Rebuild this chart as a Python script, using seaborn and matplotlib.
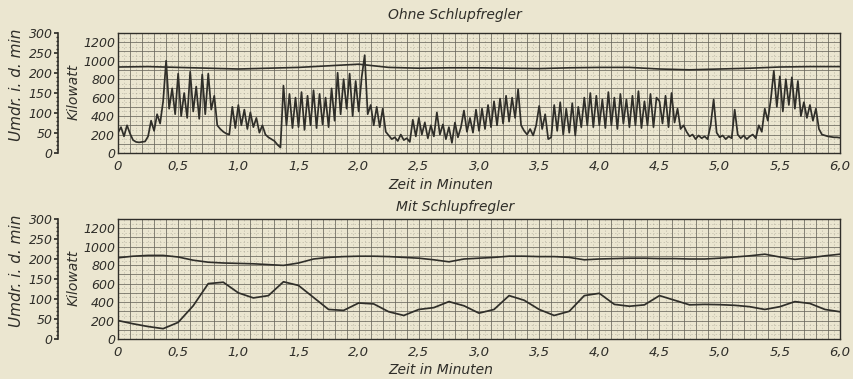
import numpy as np
import pandas as pd
import matplotlib
matplotlib.use("Agg")
import matplotlib.pyplot as plt
import seaborn as sns

# ============================================================
# Data
# ============================================================
# Ohne Schlupfregler: Kilowatt every 0.025 min, Umdrehungen every 0.25 min
kw_ohne = [
    220, 280, 180, 300, 210, 140, 120, 115, 120, 125,
    180, 350, 240, 420, 320, 560, 1000, 480, 700, 420,
    860, 400, 650, 380, 880, 450, 720, 370, 850, 420,
    860, 470, 620, 300, 260, 230, 210, 200, 500, 270,
    520, 300, 470, 260, 440, 280, 380, 220, 300, 200,
    170, 150, 130, 90, 60, 730, 300, 640, 270, 600,
    280, 660, 250, 620, 300, 680, 270, 640, 310, 600,
    280, 700, 350, 870, 420, 800, 480, 860, 400, 780,
    450, 820, 1060, 420, 520, 300, 500, 280, 480, 230,
    190, 150, 170, 130, 200, 140, 160, 120, 360, 180,
    380, 200, 330, 160, 300, 180, 440, 200, 310, 150,
    280, 110, 330, 170, 280, 460, 230, 380, 220, 470,
    240, 480, 260, 520, 280, 560, 300, 590, 320, 620,
    340, 600, 380, 690, 300, 240, 200, 260, 190, 300,
    510, 260, 420, 150, 170, 520, 240, 550, 200, 480,
    220, 540, 190, 500, 280, 600, 300, 650, 280, 620,
    300, 580, 270, 660, 300, 600, 260, 640, 320, 580,
    280, 620, 300, 670, 270, 560, 300, 640, 280, 600,
    560, 320, 620, 280, 650, 330, 480, 260, 300, 230,
    180, 200, 150, 190, 160, 180, 150, 300, 580, 220,
    170, 190, 150, 180, 160, 470, 200, 160, 190, 150,
    180, 200, 160, 300, 230, 480, 350, 580, 890, 500,
    830, 450, 800, 520, 820, 480, 780, 400, 550, 380,
    520, 350, 480, 260, 200, 190, 180, 175, 170, 170,
    165,
]
rpm_ohne = [215, 216, 214, 212, 210, 212, 214, 218, 222, 214, 212, 213, 213,
            212, 211, 213, 214, 214, 210, 208, 210, 212, 215, 216, 216]

# Mit Schlupfregler: both every 0.125 min
kw_mit = [200, 165, 135, 112, 180, 360, 600, 615, 500, 445, 470, 620, 580,
          450, 320, 310, 390, 380, 295, 255, 320, 340, 405, 360, 280, 320,
          470, 420, 320, 255, 300, 470, 495, 375, 355, 370, 470, 420, 370,
          375, 372, 365, 350, 320, 350, 405, 385, 320, 295]
rpm_mit = [203, 207, 209, 209, 205, 197, 192, 190, 189, 188, 186, 184, 190,
           200, 204, 206, 207, 207, 206, 204, 202, 198, 193, 200, 202, 204,
           207, 207, 206, 206, 204, 198, 200, 201, 202, 202, 201, 201, 200,
           200, 202, 205, 208, 212, 205, 199, 203, 208, 212]

x_ticks = [0, 0.5, 1.0, 1.5, 2.0, 2.5, 3.0, 3.5, 4.0, 4.5, 5.0, 5.5, 6.0]
x_labels = ["0", "0,5", "1,0", "1,5", "2,0", "2,5", "3,0", "3,5", "4,0",
            "4,5", "5,0", "5,5", "6,0"]
kw_ticks = [0, 200, 400, 600, 800, 1000, 1200]
rpm_ticks = [0, 50, 100, 150, 200, 250, 300]

panels = [
    ("Ohne Schlupfregler", kw_ohne, rpm_ohne),
    ("Mit Schlupfregler", kw_mit, rpm_mit),
]

# ============================================================
# Style
# ============================================================
sns.set_theme(style="ticks")
plt.rcParams["font.family"] = ["DejaVu Sans"]
PAPER = "#ebe6d0"
INK = "#2f2e29"
GRID = "#6a685d"

W, H = 854, 379
fig = plt.figure(figsize=(W / 100, H / 100), dpi=100, facecolor=PAPER)


def fx(px):
    return px / W


def fy(py):
    return 1 - py / H


# pixel boxes of the two plot areas: (top, bottom)
boxes = [(33, 153), (219, 339)]
title_y = [15, 207]
xlabel_y = [185, 370]

for (title, kw, rpm), (top, bot), ty, xy in zip(panels, boxes, title_y, xlabel_y):
    ax = fig.add_axes([fx(118), fy(bot), (840 - 118) / W, (bot - top) / H])
    ax.set_facecolor(PAPER)

    df_kw = pd.DataFrame({"t": np.linspace(0, 6, len(kw)), "kw": kw})
    df_rpm = pd.DataFrame({"t": np.linspace(0, 6, len(rpm)), "rpm": rpm})

    sns.lineplot(data=df_kw, x="t", y="kw", ax=ax, color=INK, lw=1.25)
    ax.set_xlim(0, 6)
    ax.set_ylim(0, 1300)

    # graph paper grid
    ax.set_xticks(x_ticks)
    ax.set_xticklabels(x_labels)
    ax.set_xticks(np.arange(0, 6.01, 0.1), minor=True)
    ax.set_yticks(kw_ticks)
    ax.set_yticks(np.arange(0, 1301, 100), minor=True)
    ax.grid(True, which="both", color=GRID, lw=0.65, alpha=0.85)
    for xv in np.arange(0.05, 6, 0.1):
        ax.axvline(xv, color=GRID, lw=0.5, ls=(0, (2, 3)), alpha=0.35, zorder=0)
    for yv in np.arange(50, 1300, 100):
        ax.axhline(yv, color=GRID, lw=0.5, ls=(0, (2, 3)), alpha=0.35, zorder=0)
    ax.set_axisbelow(True)
    ax.tick_params(which="both", length=0, colors=INK)
    ax.tick_params(axis="y", pad=2, labelsize=9)
    ax.tick_params(axis="x", pad=5, labelsize=9.5)
    for lab in ax.get_xticklabels() + ax.get_yticklabels():
        lab.set_fontstyle("italic")
    for sp in ax.spines.values():
        sp.set_color(INK)
        sp.set_linewidth(1.0)
    ax.set_xlabel("")
    ax.set_ylabel("")

    # second scale: revolutions per minute
    ar = ax.twinx()
    sns.lineplot(data=df_rpm, x="t", y="rpm", ax=ar, color=INK, lw=1.2)
    ar.set_ylim(0, 300)
    ar.yaxis.tick_left()
    ar.spines["left"].set_position(("outward", 43))
    ar.spines["left"].set_color(INK)
    ar.spines["left"].set_linewidth(1.2)
    for s in ["right", "top", "bottom"]:
        ar.spines[s].set_visible(False)
    ar.set_yticks(rpm_ticks)
    ar.set_yticks(np.arange(0, 301, 10), minor=True)
    ar.tick_params(axis="y", which="major", length=3, pad=1, labelsize=9, colors=INK)
    ar.tick_params(axis="y", which="minor", length=1.5, colors=INK)
    for lab in ar.get_yticklabels():
        lab.set_fontstyle("italic")
    ar.grid(False)
    ar.set_ylabel("")
    ar.set_xlabel("")

    # texts
    mid = (top + bot) / 2
    fig.text(fx(17), fy(mid - 8), "Umdr. i. d. min", rotation=90, ha="center",
             va="center", fontsize=11, fontstyle="italic", color=INK)
    fig.text(fx(74), fy(mid - 1), "Kilowatt", rotation=90, ha="center",
             va="center", fontsize=10, fontstyle="italic", color=INK)
    fig.text(fx(455), fy(ty), title, ha="center", va="center",
             fontsize=10, fontstyle="italic", color=INK)
    fig.text(fx(441), fy(xy), "Zeit in Minuten", ha="center", va="center",
             fontsize=10, fontstyle="italic", color=INK)

fig.savefig("out.png", dpi=100, facecolor=PAPER)
